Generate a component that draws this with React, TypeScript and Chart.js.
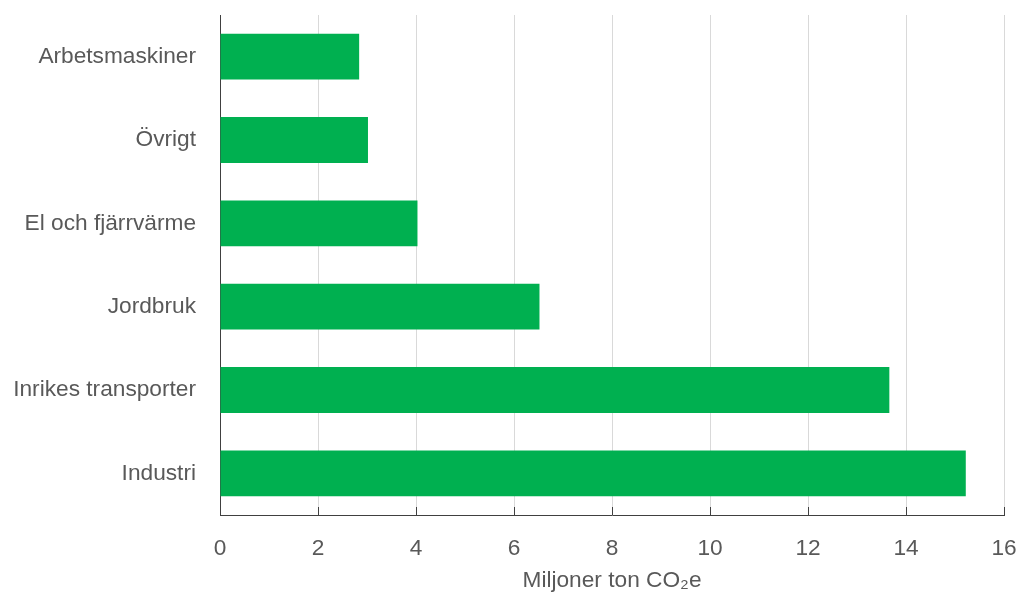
import React, { useEffect, useRef } from "react";
import { Chart, registerables } from "chart.js";

Chart.register(...registerables);

const categories = [
  "Arbetsmaskiner",
  "Övrigt",
  "El och fjärrvärme",
  "Jordbruk",
  "Inrikes transporter",
  "Industri",
];
const values = [2.84, 3.02, 4.03, 6.52, 13.66, 15.22];
const xMin = 0;
const xMax = 16;
const xStep = 2;
const axisTitle = "Miljoner ton CO\u2082e";

const FONT = "'Liberation Sans', Arial, sans-serif";
const TEXT = "#595959";
const FS = 22.7;

const innerTicks = {
  id: "innerTicks",
  afterDraw(chart: any) {
    const x = chart.scales.x;
    const ctx = chart.ctx;
    ctx.save();
    ctx.strokeStyle = "#404040";
    ctx.lineWidth = 1;
    x.ticks.forEach((t: any) => {
      const px = Math.round(x.getPixelForValue(t.value)) + 0.5;
      ctx.beginPath();
      ctx.moveTo(px, x.top - 8);
      ctx.lineTo(px, x.top);
      ctx.stroke();
    });
    ctx.restore();
  },
};

export default function App() {
  const ref = useRef<HTMLCanvasElement>(null);
  useEffect(() => {
    if (!ref.current) return;
    const chart = new Chart(ref.current, {
      type: "bar",
      data: {
        labels: categories,
        datasets: [
          {
            data: values,
            backgroundColor: "#00b050",
            borderWidth: 0,
            barPercentage: 0.55,
            categoryPercentage: 1,
          },
        ],
      },
      options: {
        indexAxis: "y",
        animation: false,
        responsive: false,
        maintainAspectRatio: false,
        layout: { padding: { top: 15, right: 15, left: 0, bottom: 0 } },
        plugins: { legend: { display: false }, tooltip: { enabled: false } },
        scales: {
          x: {
            min: xMin,
            max: xMax,
            ticks: {
              stepSize: xStep,
              color: TEXT,
              font: { family: FONT, size: FS },
              padding: 20,
            },
            grid: { color: "#d9d9d9", lineWidth: 1, drawTicks: false },
            border: { display: true, color: "#404040", width: 1 },
            title: {
              display: true,
              text: axisTitle,
              color: TEXT,
              font: { family: FONT, size: FS },
              padding: { top: 0, bottom: 0 },
            },
            afterFit(scale: any) {
              scale.height = 79;
              scale.paddingLeft = 0;
              scale.paddingRight = 0;
            },
          },
          y: {
            ticks: {
              color: TEXT,
              font: { family: FONT, size: FS },
              padding: 24,
            },
            grid: { display: false, drawTicks: false },
            border: { display: true, color: "#404040", width: 1 },
            afterFit(scale: any) {
              scale.width = 220;
              scale.paddingTop = 0;
              scale.paddingBottom = 0;
            },
          },
        },
      },
      plugins: [innerTicks],
    });
    return () => chart.destroy();
  }, []);
  return (
    <div style={{ position: "fixed", left: 0, top: 0, width: 1019, height: 594, background: "#fff" }}>
      <canvas ref={ref} width={1019} height={594} />
    </div>
  );
}
